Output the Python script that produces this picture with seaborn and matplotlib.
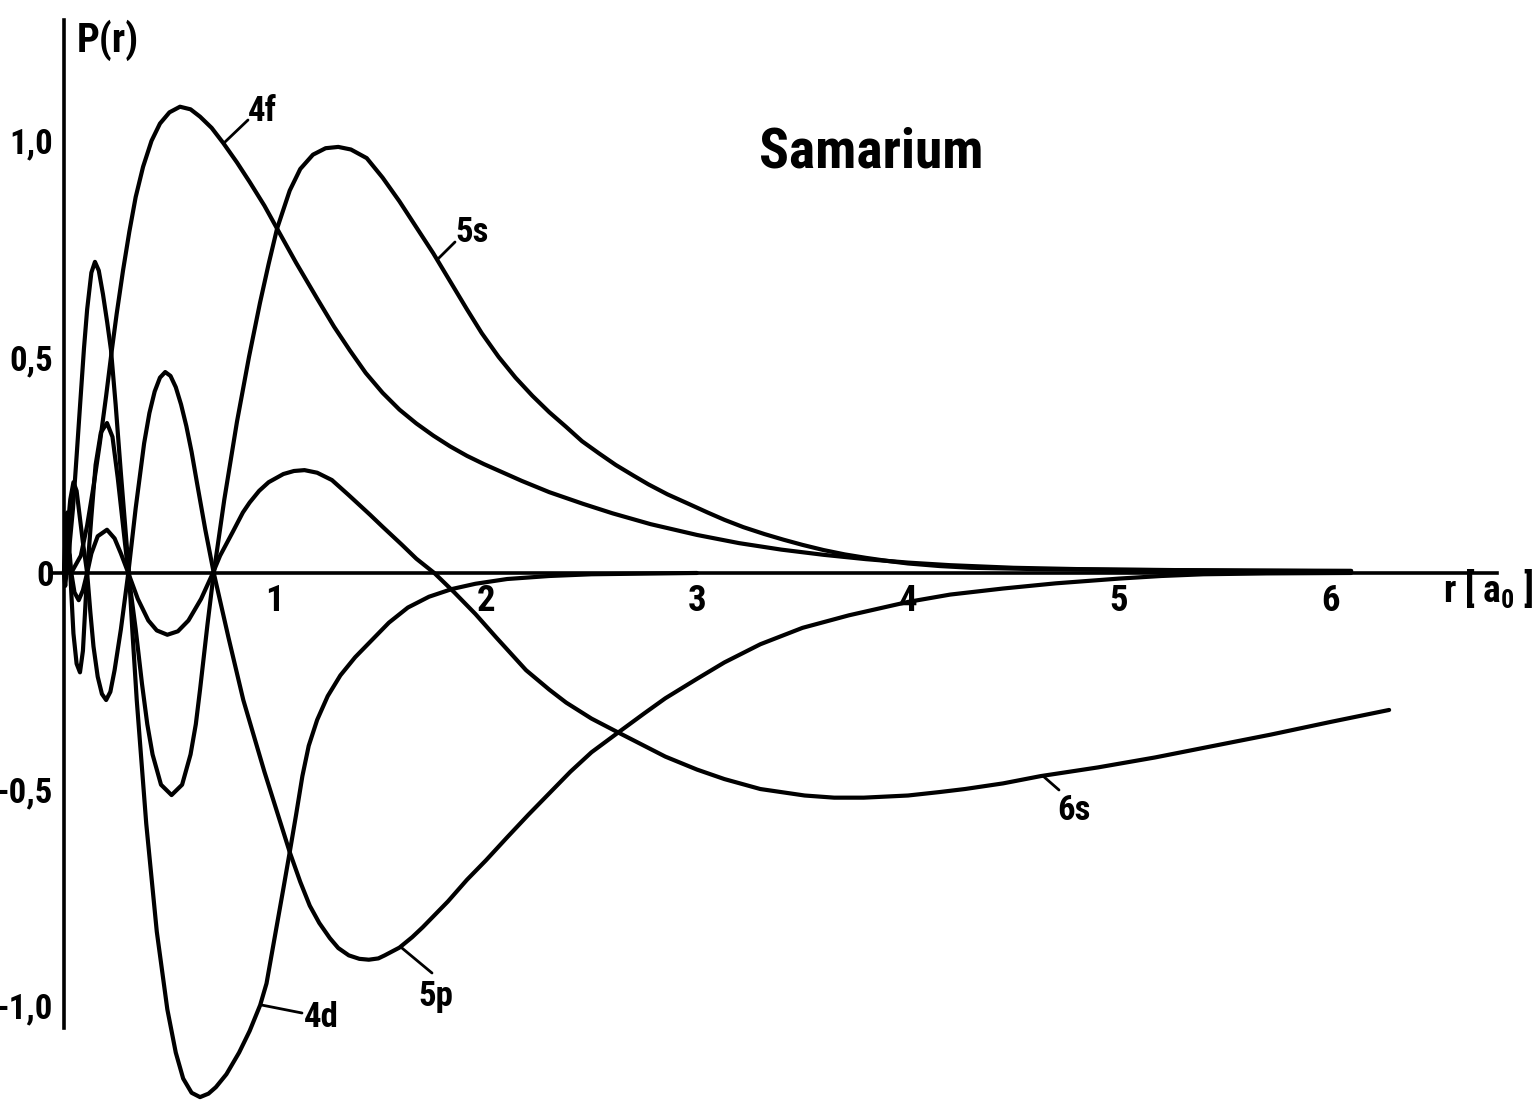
import matplotlib
matplotlib.use("Agg")
import matplotlib.pyplot as plt
import numpy as np
import pandas as pd
import seaborn as sns
from matplotlib import font_manager
from matplotlib.ticker import FixedLocator

# Radial wave functions P(r) of samarium, r in Bohr radii
r_4f = [0.0, 0.04, 0.08, 0.11, 0.14, 0.17, 0.20, 0.227, 0.25, 0.28, 0.31, 0.34, 0.375, 0.415,
        0.455, 0.50, 0.55, 0.60, 0.645, 0.70, 0.755, 0.82, 0.88, 0.95, 1.01, 1.10, 1.20, 1.28,
        1.355, 1.43, 1.51, 1.59, 1.67, 1.75, 1.83, 1.91, 1.99, 2.17, 2.30, 2.46, 2.60, 2.78, 3.0,
        3.2, 3.4, 3.6, 3.8, 4.0, 4.2, 4.5, 4.8, 5.2, 5.6, 6.1]
p_4f = [0.0, 0.005, 0.04, 0.11, 0.20, 0.30, 0.41, 0.516, 0.60, 0.70, 0.79, 0.87, 0.94, 1.00,
        1.04, 1.066, 1.079, 1.073, 1.056, 1.03, 0.995, 0.95, 0.905, 0.85, 0.797, 0.718, 0.635,
        0.57, 0.515, 0.463, 0.417, 0.378, 0.346, 0.318, 0.293, 0.271, 0.252, 0.213, 0.187, 0.16,
        0.138, 0.113, 0.088, 0.069, 0.054, 0.042, 0.032, 0.024, 0.018, 0.012, 0.009, 0.007,
        0.005, 0.004]

r_5s = [0.0, 0.008, 0.016, 0.024, 0.03, 0.045, 0.06, 0.076, 0.09, 0.11, 0.13, 0.15, 0.175, 0.204,
        0.23, 0.255, 0.28, 0.305, 0.34, 0.37, 0.395, 0.42, 0.46, 0.51, 0.56, 0.60, 0.625, 0.645,
        0.68, 0.71, 0.76, 0.82, 0.877, 0.929, 0.97, 1.01, 1.07, 1.12, 1.18, 1.24, 1.30, 1.36,
        1.435, 1.51, 1.59, 1.67, 1.75, 1.83, 1.91, 1.98, 2.06, 2.14, 2.22, 2.30, 2.38, 2.455,
        2.535, 2.615, 2.70, 2.77, 2.86, 2.96, 3.05, 3.13, 3.22, 3.32, 3.41, 3.5, 3.6, 3.70, 3.8,
        3.9, 4.0, 4.15, 4.3, 4.6, 5.0, 5.5, 6.1]
p_5s = [0.0, 0.09, 0.14, 0.08, 0.0, -0.14, -0.21, -0.23, -0.18, 0.0, 0.13, 0.25, 0.325, 0.347,
        0.315, 0.22, 0.11, 0.0, -0.13, -0.257, -0.35, -0.42, -0.49, -0.514, -0.49, -0.42, -0.35,
        -0.27, -0.12, 0.0, 0.17, 0.35, 0.50, 0.625, 0.715, 0.797, 0.885, 0.935, 0.968, 0.983,
        0.986, 0.98, 0.96, 0.915, 0.86, 0.80, 0.74, 0.675, 0.61, 0.555, 0.50, 0.452, 0.41, 0.372,
        0.338, 0.305, 0.277, 0.25, 0.225, 0.205, 0.182, 0.16, 0.14, 0.123, 0.106, 0.09, 0.077,
        0.065, 0.053, 0.043, 0.035, 0.028, 0.022, 0.016, 0.012, 0.009, 0.007, 0.006, 0.005]

r_4d = [0.0, 0.02, 0.043, 0.06, 0.076, 0.095, 0.11, 0.13, 0.147, 0.165, 0.185, 0.205, 0.223,
        0.245, 0.27, 0.29, 0.308, 0.325, 0.345, 0.39, 0.44, 0.49, 0.53, 0.565, 0.605, 0.645,
        0.685, 0.72, 0.77, 0.83, 0.88, 0.93, 0.96, 1.0, 1.04, 1.07, 1.10, 1.13, 1.16, 1.20, 1.25,
        1.31, 1.38, 1.45, 1.54, 1.63, 1.73, 1.84, 1.95, 2.1, 2.3, 2.5, 3.0]
p_4d = [0.0, 0.03, 0.15, 0.27, 0.385, 0.52, 0.61, 0.695, 0.72, 0.70, 0.645, 0.58, 0.516, 0.39,
        0.23, 0.11, 0.0, -0.14, -0.294, -0.58, -0.83, -1.01, -1.11, -1.17, -1.203, -1.213,
        -1.205, -1.19, -1.16, -1.11, -1.06, -1.0, -0.95, -0.84, -0.73, -0.646, -0.56, -0.47,
        -0.40, -0.34, -0.285, -0.237, -0.195, -0.16, -0.115, -0.08, -0.055, -0.037, -0.025,
        -0.014, -0.007, -0.003, 0.0]

r_5p = [0.0, 0.015, 0.03, 0.045, 0.06, 0.075, 0.09, 0.11, 0.125, 0.14, 0.16, 0.18, 0.20, 0.22,
        0.24, 0.27, 0.305, 0.34, 0.38, 0.405, 0.43, 0.455, 0.48, 0.505, 0.53, 0.555, 0.58, 0.605,
        0.63, 0.67, 0.71, 0.78, 0.85, 0.95, 1.07, 1.12, 1.165, 1.21, 1.26, 1.30, 1.35, 1.40,
        1.445, 1.49, 1.52, 1.59, 1.65, 1.7, 1.76, 1.82, 1.91, 2.0, 2.1, 2.2, 2.3, 2.4, 2.5, 2.63,
        2.75, 2.85, 3.0, 3.13, 3.3, 3.5, 3.72, 4.0, 4.2, 4.45, 4.7, 5.0, 5.2, 5.4, 5.7, 6.1]
p_5p = [0.0, 0.09, 0.17, 0.21, 0.19, 0.13, 0.07, 0.0, -0.09, -0.17, -0.24, -0.28, -0.294,
        -0.275, -0.225, -0.13, 0.0, 0.15, 0.30, 0.37, 0.42, 0.452, 0.465, 0.456, 0.43, 0.39,
        0.34, 0.28, 0.21, 0.10, 0.0, -0.15, -0.294, -0.46, -0.646, -0.715, -0.77, -0.81, -0.845,
        -0.868, -0.885, -0.893, -0.895, -0.892, -0.885, -0.867, -0.843, -0.82, -0.79, -0.76,
        -0.71, -0.665, -0.612, -0.56, -0.51, -0.46, -0.415, -0.368, -0.325, -0.29, -0.245,
        -0.207, -0.165, -0.127, -0.098, -0.067, -0.05, -0.036, -0.024, -0.013, -0.007, -0.003,
        -0.001, 0.0]

r_6s = [0.0, 0.006, 0.012, 0.02, 0.028, 0.035, 0.05, 0.07, 0.09, 0.11, 0.13, 0.16, 0.204, 0.24,
        0.27, 0.305, 0.35, 0.40, 0.44, 0.49, 0.54, 0.59, 0.65, 0.706, 0.74, 0.80, 0.848, 0.88,
        0.925, 0.97, 1.04, 1.09, 1.14, 1.2, 1.27, 1.35, 1.45, 1.51, 1.6, 1.67, 1.755, 1.85, 1.95,
        2.05, 2.19, 2.3, 2.38, 2.5, 2.63, 2.75, 2.85, 3.0, 3.13, 3.3, 3.51, 3.65, 3.79, 4.0, 4.15,
        4.27, 4.45, 4.63, 4.9, 5.17, 5.45, 5.72, 6.0, 6.28]
p_6s = [0.0, -0.03, 0.0, 0.05, 0.04, 0.0, -0.045, -0.063, -0.04, 0.0, 0.045, 0.085, 0.10, 0.08,
        0.045, 0.0, -0.06, -0.11, -0.133, -0.143, -0.135, -0.11, -0.06, 0.0, 0.04, 0.095, 0.14,
        0.163, 0.19, 0.21, 0.229, 0.236, 0.238, 0.232, 0.215, 0.18, 0.135, 0.107, 0.066, 0.033,
        0.0, -0.045, -0.095, -0.15, -0.225, -0.27, -0.30, -0.337, -0.37, -0.40, -0.425, -0.455,
        -0.477, -0.50, -0.515, -0.52, -0.52, -0.515, -0.507, -0.50, -0.487, -0.47, -0.45, -0.427,
        -0.40, -0.374, -0.345, -0.317]

orbitals = {"4f": (r_4f, p_4f), "5s": (r_5s, p_5s), "4d": (r_4d, p_4d),
            "5p": (r_5p, p_5p), "6s": (r_6s, p_6s)}

y_ticks = [-1.0, -0.5, 0.0, 0.5, 1.0]
y_tick_labels = ["-1,0", "-0,5", "0", "0,5", "1,0"]
x_ticks = [1, 2, 3, 4, 5, 6]
x_tick_labels = ["1", "2", "3", "4", "5", "6"]

df = pd.concat(
    [pd.DataFrame({"r": r, "P": p, "orbital": name}) for name, (r, p) in orbitals.items()],
    ignore_index=True,
)

sns.set_style("white")

# pick a narrow bold face if one is installed
entries = font_manager.fontManager.ttflist
names = {f.name for f in entries}
face, stretch, scale = None, "normal", 1.0
for cand in ("Liberation Sans Narrow", "DejaVu Sans Condensed", "Roboto Condensed",
             "Open Sans Condensed", "Noto Sans Condensed", "Arial Narrow", "Nimbus Sans Narrow"):
    if cand in names:
        face = cand
        break
if face is None:
    cond = [f for f in entries if str(f.stretch) in ("condensed", "semi-condensed",
                                                        "extra-condensed", "ultra-condensed")
            and "CJK" not in f.name]
    if cond:
        face, stretch = cond[0].name, "condensed"
if face is None:
    face = "Roboto" if "Roboto" in names else "DejaVu Sans"
    scale = 0.92

plt.rcParams["font.family"] = [face, "DejaVu Sans"]
plt.rcParams["font.stretch"] = stretch
plt.rcParams["font.weight"] = "bold"
plt.rcParams["text.color"] = "black"
plt.rcParams["mathtext.fontset"] = "custom"
plt.rcParams["mathtext.rm"] = f"{face}:bold"

W, H = 1536, 1101
fig = plt.figure(figsize=(W / 100, H / 100), dpi=100)
ax = fig.add_axes([0, 0, 1, 1])

sns.lineplot(data=df, x="r", y="P", units="orbital", estimator=None, sort=False,
             color="black", lw=3.0, ax=ax, legend=False)

ax.set_xlim(-0.303, 6.976)
ax.set_ylim(-1.222, 1.326)
ax.set_xlabel("")
ax.set_ylabel("")

for side in ("top", "right"):
    ax.spines[side].set_visible(False)
ax.spines["left"].set_position(("data", 0))
ax.spines["bottom"].set_position(("data", 0))
ax.spines["left"].set_bounds(-1.053, 1.28)
ax.spines["bottom"].set_bounds(-0.05, 6.79)
for side in ("left", "bottom"):
    ax.spines[side].set_linewidth(2.6)
    ax.spines[side].set_color("black")

ax.set_yticks(y_ticks)
ax.set_yticklabels(y_tick_labels)
ax.yaxis.set_minor_locator(FixedLocator([v / 10 for v in range(-9, 10) if v not in (-5, 0, 5)]))
ax.set_xticks(x_ticks)
ax.set_xticklabels(x_tick_labels)
ax.xaxis.set_minor_locator(FixedLocator([k + 0.5 for k in range(6)]))

ax.tick_params(axis="y", which="major", direction="inout", length=13, width=2.2,
               pad=1.0, labelsize=25 * scale, colors="black")
ax.tick_params(axis="y", which="minor", direction="out", length=7, width=2, colors="black")
ax.tick_params(axis="x", which="major", direction="inout", length=13, width=2.2,
               pad=0.5, labelsize=26.5 * scale, colors="black")
ax.tick_params(axis="x", which="minor", direction="inout", length=9, width=2, colors="black")
for lab in ax.get_xticklabels() + ax.get_yticklabels():
    lab.set_fontweight("bold")
    lab.set_fontstretch(stretch)


def fx(px):
    return px / W


def fy(py):
    return 1 - py / H


txt = dict(fontweight="bold", fontstretch=stretch, color="black")

# axis titles and heading
fig.text(fx(77), fy(52), "P(r)", fontsize=29 * scale, ha="left", va="baseline", **txt)
fig.text(fx(871), fy(168), "Samarium", fontsize=40 * scale, ha="center", va="baseline", **txt)
fig.text(fx(1443), fy(603), r"r [ a$_\mathregular{0}$ ]", fontsize=27 * scale,
         ha="left", va="baseline", **txt)

# curve labels with leader lines
labels = [
    ("4f", (262, 121), (0.758, 0.995), (248, 120)),
    ("5s", (472, 242), (1.773, 0.727), (455, 242)),
    ("4d", (321, 1027), (0.938, -1.0), (302, 1013)),
    ("5p", (436, 1006), (1.597, -0.866), (432, 973)),
    ("6s", (1074, 820), (4.64, -0.47), (1059, 790)),
]
for text, (tx, ty), (cx, cy), (lx, ly) in labels:
    fig.text(fx(tx), fy(ty), text, fontsize=25 * scale, ha="center", va="baseline", **txt)
    ax.annotate("", xy=(cx, cy), xycoords="data", xytext=(fx(lx), fy(ly)),
                textcoords="figure fraction",
                arrowprops=dict(arrowstyle="-", lw=2.0, color="black", shrinkA=0, shrinkB=0))

fig.savefig("out.png", dpi=100, facecolor="white")
